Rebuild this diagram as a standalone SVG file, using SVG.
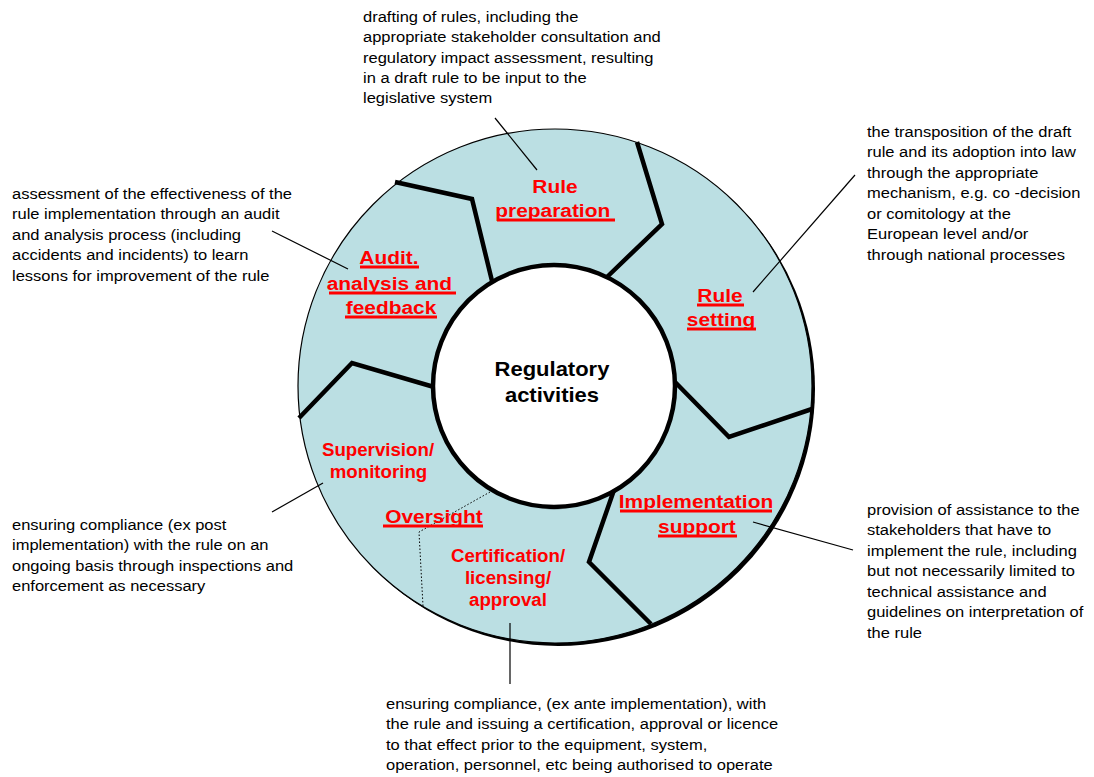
<svg xmlns="http://www.w3.org/2000/svg" width="1094" height="777" viewBox="0 0 1094 777">
<style>
.desc{font-family:"Liberation Sans",Arial,sans-serif;font-size:15px;fill:#000}
.lab{font-family:"Liberation Sans",Arial,sans-serif;font-size:19px;font-weight:bold;fill:#ff0000;text-anchor:middle}
.lab2{font-family:"Liberation Sans",Arial,sans-serif;font-size:18.7px;font-weight:bold;fill:#ff0000;text-anchor:middle}
.ul{fill:#ff0000}
.hub{font-family:"Liberation Sans",Arial,sans-serif;font-size:20px;font-weight:bold;fill:#000;text-anchor:middle}
.div{fill:none;stroke:#000;stroke-width:4.5;stroke-linejoin:miter}
.con{fill:none;stroke:#000;stroke-width:1.2}
</style>
<rect width="1094" height="777" fill="#fff"/>
<g id="ring">
<circle cx="558" cy="389" r="257" fill="#000"/>
<circle cx="555" cy="386" r="257" fill="#bbdfe3" stroke="#000" stroke-width="1.2"/>
</g>
<g id="dividers">
<polyline class="div" points="395,182 472,199 492,281"/>
<polyline class="div" points="637,142 662,224 607,277"/>
<polyline class="div" points="675,382 729,437 812,409"/>
<polyline class="div" points="614,490 589,562 651,624"/>
<polyline class="div" points="299,418 352,363 434,387"/>
<polyline fill="none" stroke="#000" stroke-width="1" stroke-dasharray="1.5,2" points="490,492 419,532 423,606"/>
</g>
<g id="hub">
<circle cx="554" cy="386" r="121" fill="#fff" stroke="#000" stroke-width="4.5"/>
<g transform="scale(1.1 1)">
<text class="hub" x="501.8" y="376">Regulatory</text>
<text class="hub" x="501.8" y="402">activities</text>
</g>
</g>
<g id="connectors">
<line class="con" x1="495" y1="118" x2="537" y2="170"/>
<line class="con" x1="272" y1="231" x2="348" y2="269"/>
<line class="con" x1="753" y1="292" x2="855" y2="175"/>
<line class="con" x1="753" y1="522" x2="853" y2="550"/>
<line class="con" x1="323" y1="483" x2="272" y2="512"/>
<line class="con" x1="510" y1="623" x2="510" y2="684"/>
</g>
<g id="rule-preparation">
<g transform="scale(1.1 1)">
<text class="lab" x="504.5" y="193">Rule</text>
<text class="lab" x="502.5" y="217">preparation</text>
<text class="desc" x="330" y="22"><tspan x="330">drafting of rules, including the</tspan><tspan x="330" dy="20.3">appropriate stakeholder consultation and</tspan><tspan x="330" dy="20.3">regulatory impact assessment, resulting</tspan><tspan x="330" dy="20.3">in a draft rule to be input to the</tspan><tspan x="330" dy="20.3">legislative system</tspan></text>
</g>
<rect class="ul" x="497" y="218.5" width="118" height="3"/>
</g>
<g id="rule-setting">
<g transform="scale(1.1 1)">
<text class="lab" x="654.5" y="302">Rule</text>
<text class="lab" x="655.5" y="326">setting</text>
<text class="desc" x="788.2" y="137"><tspan x="788.2">the transposition of the draft</tspan><tspan x="788.2" dy="20.5">rule and its adoption into law</tspan><tspan x="788.2" dy="20.5">through the appropriate</tspan><tspan x="788.2" dy="20.5">mechanism, e.g. co -decision</tspan><tspan x="788.2" dy="20.5">or comitology  at the</tspan><tspan x="788.2" dy="20.5">European level and/or</tspan><tspan x="788.2" dy="20.5">through national processes</tspan></text>
</g>
<rect class="ul" x="697" y="303.5" width="47" height="3"/>
<rect class="ul" x="687" y="327.5" width="69" height="3"/>
</g>
<g id="implementation-support">
<g transform="scale(1.1 1)">
<text class="lab" x="632.7" y="508">Implementation</text>
<text class="lab" x="633.6" y="533">support</text>
<text class="desc" x="788.2" y="515"><tspan x="788.2">provision of assistance to the</tspan><tspan x="788.2" dy="20.5">stakeholders that have to</tspan><tspan x="788.2" dy="20.5">implement the rule, including</tspan><tspan x="788.2" dy="20.5">but not necessarily limited to</tspan><tspan x="788.2" dy="20.5">technical assistance and</tspan><tspan x="788.2" dy="20.5">guidelines on interpretation of</tspan><tspan x="788.2" dy="20.5">the rule</tspan></text>
</g>
<rect class="ul" x="620" y="509.5" width="152" height="3"/>
<rect class="ul" x="658" y="534.5" width="79" height="3"/>
</g>
<g id="oversight">
<g transform="scale(1.1 1)">
<text class="lab" x="394.5" y="523">Oversight</text>
</g>
<rect class="ul" x="383" y="524.5" width="100" height="3"/>
</g>
<g id="certification">
<text class="lab2" x="508" y="562">Certification/</text>
<text class="lab2" x="508" y="584">licensing/</text>
<text class="lab2" x="508" y="606">approval</text>
<g transform="scale(1.1 1)">
<text class="desc" x="350.9" y="709"><tspan x="350.9">ensuring compliance, (ex ante implementation), with</tspan><tspan x="350.9" dy="20.5">the rule and issuing a certification, approval or licence</tspan><tspan x="350.9" dy="20.5">to that effect prior to the equipment, system,</tspan><tspan x="350.9" dy="20.5">operation, personnel, etc being authorised to operate</tspan></text>
</g>
</g>
<g id="supervision">
<text class="lab2" x="378" y="456">Supervision/</text>
<text class="lab2" x="378.5" y="478">monitoring</text>
<g transform="scale(1.1 1)">
<text class="desc" x="10.9" y="530"><tspan x="10.9">ensuring compliance (ex post</tspan><tspan x="10.9" dy="20.5">implementation) with the rule on an</tspan><tspan x="10.9" dy="20.5">ongoing basis through inspections and</tspan><tspan x="10.9" dy="20.5">enforcement as necessary</tspan></text>
</g>
</g>
<g id="audit">
<g transform="scale(1.1 1)">
<text class="lab" x="353.6" y="264">Audit.</text>
<text class="lab" x="354" y="290">analysis and</text>
<text class="lab" x="355.5" y="314">feedback</text>
<text class="desc" x="10.9" y="199"><tspan x="10.9">assessment of the effectiveness of the</tspan><tspan x="10.9" dy="20.5">rule implementation through an audit</tspan><tspan x="10.9" dy="20.5">and analysis process (including</tspan><tspan x="10.9" dy="20.5">accidents and incidents) to learn</tspan><tspan x="10.9" dy="20.5">lessons for improvement of the rule</tspan></text>
</g>
<rect class="ul" x="360" y="265.5" width="59" height="3"/>
<rect class="ul" x="329" y="291.5" width="127" height="3"/>
<rect class="ul" x="345" y="315.5" width="92" height="3"/>
</g>
</svg>
